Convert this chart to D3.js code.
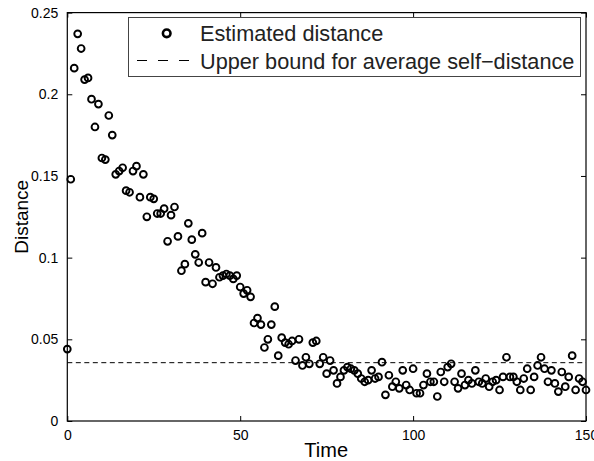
<!DOCTYPE html>
<html><head><meta charset="utf-8">
<script src="https://cdn.jsdelivr.net/npm/d3@7"></script>
<style>body{margin:0;background:#fff}svg{display:block}text{font-family:"Liberation Sans",Arial,sans-serif}</style>
</head><body>
<script>
const times = [0,1,2,3,4,5,6,7,8,9,10,11,12,13,14,15,16,17,18,19,20,21,22,23,24,25,26,27,28,29,30,31,32,33,34,35,36,37,38,39,40,41,42,43,44,45,46,47,48,49,50,51,52,53,54,55,56,57,58,59,60,61,62,63,64,65,66,67,68,69,70,71,72,73,74,75,76,77,78,79,80,81,82,83,84,85,86,87,88,89,90,91,92,93,94,95,96,97,98,99,100,101,102,103,104,105,106,107,108,109,110,111,112,113,114,115,116,117,118,119,120,121,122,123,124,125,126,127,128,129,130,131,132,133,134,135,136,137,138,139,140,141,142,143,144,145,146,147,148,149,150];
const distance = [
0.044,0.148,0.216,0.237,0.228,0.209,0.210,0.197,0.180,0.194,
0.161,0.160,0.187,0.175,0.151,0.153,0.155,0.141,0.140,0.153,
0.156,0.137,0.151,0.125,0.137,0.136,0.127,0.127,0.130,0.110,
0.126,0.131,0.113,0.092,0.096,0.121,0.111,0.102,0.097,0.115,
0.085,0.097,0.084,0.094,0.088,0.089,0.090,0.089,0.087,0.089,
0.082,0.078,0.080,0.076,0.060,0.063,0.059,0.045,0.050,0.059,
0.070,0.040,0.051,0.048,0.047,0.049,0.037,0.050,0.034,0.039,
0.035,0.048,0.049,0.035,0.039,0.029,0.037,0.031,0.023,0.027,
0.031,0.033,0.032,0.031,0.029,0.026,0.024,0.025,0.031,0.026,
0.027,0.036,0.016,0.028,0.021,0.024,0.020,0.031,0.022,0.019,
0.032,0.017,0.017,0.022,0.029,0.024,0.024,0.015,0.030,0.024,
0.033,0.035,0.024,0.020,0.029,0.022,0.025,0.023,0.031,0.024,
0.023,0.026,0.021,0.024,0.025,0.019,0.027,0.039,0.027,0.027,
0.024,0.019,0.026,0.032,0.019,0.027,0.034,0.039,0.032,0.024,
0.031,0.023,0.018,0.030,0.021,0.027,0.040,0.019,0.026,0.024,
0.019];
const upperBound = 0.0357;
const xTicks = [0, 50, 100, 150];
const yTicks = [0, 0.05, 0.1, 0.15, 0.2, 0.25];
const yTickLabels = ["0", "0.05", "0.1", "0.15", "0.2", "0.25"];
const legendLabels = ["Estimated distance", "Upper bound for average self\u2212distance"];

const W = 594, H = 461;
const L = 67.3, R = 586, T = 12.6, B = 421;
const svg = d3.select("body").append("svg").attr("width", W).attr("height", H);
const x = d3.scaleLinear().domain([0, 150]).range([L, R]);
const y = d3.scaleLinear().domain([0, 0.25]).range([B, T]);

// axes with inward ticks
const tl = 5;
const axB = svg.append("g").attr("transform", `translate(0,${B})`)
  .call(d3.axisBottom(x).tickValues(xTicks).tickSizeInner(-tl).tickSizeOuter(0).tickPadding(9).tickFormat(d3.format("d")));
const axT = svg.append("g").attr("transform", `translate(0,${T})`)
  .call(d3.axisTop(x).tickValues(xTicks).tickSizeInner(-tl).tickSizeOuter(0).tickFormat(""));
const axL = svg.append("g").attr("transform", `translate(${L},0)`)
  .call(d3.axisLeft(y).tickValues(yTicks).tickSizeInner(-tl).tickSizeOuter(0).tickPadding(9).tickFormat((d, i) => yTickLabels[i]));
const axR = svg.append("g").attr("transform", `translate(${R},0)`)
  .call(d3.axisRight(y).tickValues(yTicks).tickSizeInner(-tl).tickSizeOuter(0).tickFormat(""));
[axB, axT, axL, axR].forEach(g => {
  g.select(".domain").remove();
  g.selectAll("line").attr("stroke", "#000").attr("stroke-width", 1);
  g.selectAll("text").attr("font-size", 14).attr("fill", "#000").attr("font-family", "Liberation Sans, Arial, sans-serif");
});
svg.append("rect").attr("x", L).attr("y", T).attr("width", R - L).attr("height", B - T)
  .attr("fill", "none").attr("stroke", "#000").attr("stroke-width", 1.2);

// upper bound dashed line
svg.append("line").attr("x1", x(0)).attr("x2", x(150)).attr("y1", y(upperBound)).attr("y2", y(upperBound))
  .attr("stroke", "#000").attr("stroke-width", 1).attr("stroke-dasharray", "5,3.5");

// points
svg.append("g").selectAll("circle").data(distance).join("circle")
  .attr("cx", (d, i) => x(times[i])).attr("cy", d => y(d)).attr("r", 3.4)
  .attr("fill", "none").attr("stroke", "#000").attr("stroke-width", 1.9);

// labels
svg.append("text").attr("x", (L + R) / 2 - 0.5).attr("y", 457).attr("text-anchor", "middle")
  .attr("font-size", 20).text("Time");
svg.append("text").attr("transform", `translate(28,${(T + B) / 2}) rotate(-90)`).attr("text-anchor", "middle")
  .attr("font-size", 19).text("Distance");

// legend
const lg = svg.append("g");
lg.append("rect").attr("x", 128.5).attr("y", 17.5).attr("width", 452).attr("height", 59)
  .attr("fill", "#fff").attr("stroke", "#444").attr("stroke-width", 1);
lg.append("circle").attr("cx", 166.7).attr("cy", 33.3).attr("r", 3.8)
  .attr("fill", "none").attr("stroke", "#000").attr("stroke-width", 2.6);
lg.append("line").attr("x1", 137).attr("x2", 197).attr("y1", 60.5).attr("y2", 60.5)
  .attr("stroke", "#000").attr("stroke-width", 1).attr("stroke-dasharray", "10,11");
lg.append("text").attr("x", 200).attr("y", 40.5).attr("font-size", 21.7).attr("fill", "#222").text(legendLabels[0]);
lg.append("text").attr("x", 200).attr("y", 68.5).attr("font-size", 21.7).attr("fill", "#222").text(legendLabels[1]);
</script>
</body></html>
